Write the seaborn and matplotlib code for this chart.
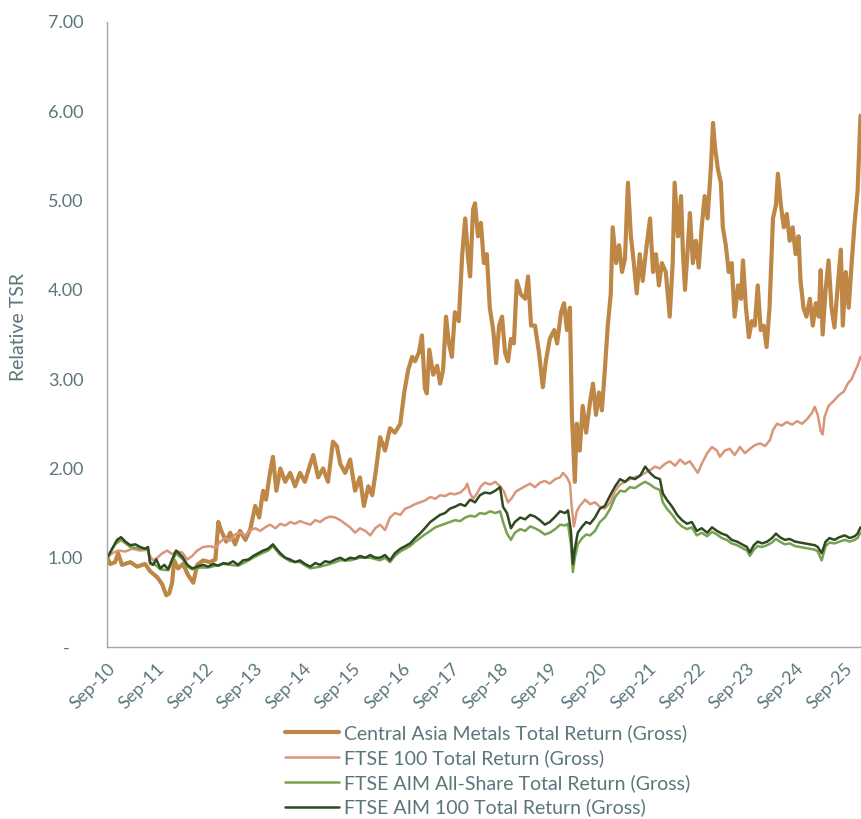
import numpy as np
import pandas as pd
import matplotlib
matplotlib.use('Agg')
import matplotlib.pyplot as plt
import matplotlib.dates as mdates
from matplotlib.ticker import FuncFormatter
import seaborn as sns

# dates as decimal years, values = relative TSR (rebased to 1.00 in Sep-10)
caml_t = [2010.67, 2010.73, 2010.83, 2010.89, 2010.97, 2011.14, 2011.28, 2011.44, 2011.54, 2011.69,
          2011.79, 2011.87, 2011.93, 2011.99, 2012.03, 2012.11, 2012.21, 2012.32, 2012.42, 2012.50,
          2012.62, 2012.76, 2012.87, 2012.93, 2012.99, 2013.09, 2013.17, 2013.27, 2013.37, 2013.48,
          2013.58, 2013.68, 2013.76, 2013.84, 2013.90, 2013.98, 2014.04, 2014.11, 2014.19, 2014.29,
          2014.39, 2014.49, 2014.59, 2014.69, 2014.80, 2014.86, 2014.96, 2015.06, 2015.16, 2015.26,
          2015.34, 2015.41, 2015.51, 2015.61, 2015.71, 2015.81, 2015.89, 2015.98, 2016.06, 2016.14,
          2016.22, 2016.32, 2016.42, 2016.52, 2016.63, 2016.71, 2016.79, 2016.87, 2016.93, 2017.01,
          2017.07, 2017.13, 2017.17, 2017.22, 2017.30, 2017.38, 2017.44, 2017.50, 2017.56, 2017.62,
          2017.68, 2017.74, 2017.82, 2017.89, 2017.95, 2018.01, 2018.05, 2018.11, 2018.15, 2018.21,
          2018.27, 2018.33, 2018.39, 2018.45, 2018.52, 2018.58, 2018.64, 2018.70, 2018.76, 2018.82,
          2018.88, 2018.94, 2019.00, 2019.08, 2019.17, 2019.23, 2019.29, 2019.37, 2019.45, 2019.53,
          2019.59, 2019.67, 2019.76, 2019.82, 2019.90, 2019.96, 2020.02, 2020.08, 2020.12, 2020.16,
          2020.18, 2020.22, 2020.28, 2020.34, 2020.41, 2020.49, 2020.55, 2020.61, 2020.67, 2020.73,
          2020.79, 2020.85, 2020.91, 2020.95, 2021.02, 2021.08, 2021.14, 2021.20, 2021.26, 2021.32,
          2021.38, 2021.44, 2021.50, 2021.56, 2021.63, 2021.71, 2021.77, 2021.83, 2021.89, 2021.95,
          2022.03, 2022.11, 2022.17, 2022.21, 2022.28, 2022.34, 2022.38, 2022.42, 2022.48, 2022.52,
          2022.58, 2022.64, 2022.70, 2022.76, 2022.82, 2022.88, 2022.95, 2022.99, 2023.03, 2023.09,
          2023.15, 2023.19, 2023.25, 2023.31, 2023.37, 2023.43, 2023.50, 2023.56, 2023.60, 2023.66,
          2023.72, 2023.78, 2023.84, 2023.90, 2023.96, 2024.02, 2024.08, 2024.14, 2024.21, 2024.27,
          2024.31, 2024.37, 2024.43, 2024.49, 2024.55, 2024.61, 2024.67, 2024.73, 2024.77, 2024.83,
          2024.89, 2024.96, 2025.02, 2025.08, 2025.14, 2025.18, 2025.22, 2025.28, 2025.34, 2025.40,
          2025.46, 2025.52, 2025.59, 2025.63, 2025.69, 2025.75, 2025.81, 2025.87, 2025.93, 2025.99]
caml_v = [1.00, 0.93, 0.95, 1.05, 0.92, 0.95, 0.90, 0.93, 0.85, 0.78,
          0.70, 0.58, 0.60, 0.72, 0.97, 0.88, 0.93, 0.80, 0.72, 0.92,
          0.97, 0.95, 0.98, 1.40, 1.30, 1.18, 1.28, 1.15, 1.30, 1.20,
          1.32, 1.58, 1.45, 1.75, 1.65, 1.95, 2.13, 1.75, 2.00, 1.85,
          1.95, 1.80, 1.95, 1.85, 2.05, 2.15, 1.90, 2.00, 1.85, 2.30,
          2.25, 2.05, 1.95, 2.10, 1.75, 1.90, 1.58, 1.80, 1.70, 2.00,
          2.35, 2.20, 2.45, 2.40, 2.50, 2.85, 3.10, 3.25, 3.20, 3.30,
          3.49, 2.90, 2.84, 3.33, 3.05, 3.15, 2.95, 3.10, 3.70, 3.40,
          3.25, 3.75, 3.65, 4.40, 4.80, 4.35, 4.15, 4.90, 4.97, 4.60,
          4.75, 4.30, 4.40, 3.80, 3.55, 3.18, 3.60, 3.70, 3.30, 3.20,
          3.45, 3.40, 4.10, 3.95, 3.90, 4.15, 3.60, 3.60, 3.30, 2.91,
          3.20, 3.45, 3.55, 3.40, 3.75, 3.85, 3.55, 3.80, 2.60, 2.10,
          1.85, 2.50, 2.20, 2.70, 2.40, 2.75, 2.95, 2.60, 2.85, 2.65,
          3.10, 3.60, 3.95, 4.70, 4.30, 4.50, 4.20, 4.35, 5.20, 4.60,
          4.30, 3.96, 4.40, 4.10, 4.45, 4.80, 4.20, 4.40, 4.05, 4.30,
          4.20, 3.70, 4.30, 5.20, 4.60, 5.05, 4.40, 4.00, 4.50, 4.86,
          4.30, 4.55, 4.25, 4.70, 5.05, 4.80, 5.40, 5.87, 5.60, 5.35,
          5.20, 4.70, 4.50, 4.20, 4.30, 3.70, 4.05, 3.90, 4.33, 3.80,
          3.47, 3.65, 3.60, 4.05, 3.55, 3.60, 3.36, 3.80, 4.80, 4.95,
          5.30, 4.95, 4.70, 4.85, 4.55, 4.70, 4.40, 4.60, 4.10, 3.80,
          3.70, 3.90, 3.60, 3.85, 3.70, 4.22, 3.50, 4.00, 4.33, 3.80,
          3.58, 4.00, 4.45, 3.60, 4.20, 3.80, 4.30, 4.75, 5.10, 5.95]

ftse100_t = [2010.67, 2010.77, 2010.89, 2011.04, 2011.18, 2011.34, 2011.48, 2011.54, 2011.60, 2011.69,
             2011.79, 2011.89, 2011.99, 2012.09, 2012.19, 2012.30, 2012.40, 2012.50, 2012.62, 2012.76,
             2012.87, 2012.97, 2013.07, 2013.17, 2013.27, 2013.37, 2013.48, 2013.58, 2013.68, 2013.78,
             2013.88, 2013.98, 2014.09, 2014.19, 2014.29, 2014.39, 2014.49, 2014.59, 2014.69, 2014.80,
             2014.90, 2015.00, 2015.10, 2015.20, 2015.31, 2015.41, 2015.51, 2015.61, 2015.71, 2015.81,
             2015.92, 2016.02, 2016.12, 2016.22, 2016.32, 2016.42, 2016.52, 2016.63, 2016.73, 2016.83,
             2016.93, 2017.03, 2017.13, 2017.24, 2017.34, 2017.44, 2017.54, 2017.64, 2017.74, 2017.85,
             2017.95, 2017.99, 2018.05, 2018.11, 2018.19, 2018.27, 2018.35, 2018.46, 2018.56, 2018.66,
             2018.74, 2018.82, 2018.90, 2018.98, 2019.07, 2019.17, 2019.27, 2019.37, 2019.47, 2019.57,
             2019.67, 2019.78, 2019.88, 2019.94, 2020.02, 2020.08, 2020.12, 2020.16, 2020.22, 2020.28,
             2020.39, 2020.49, 2020.59, 2020.69, 2020.79, 2020.90, 2021.00, 2021.10, 2021.20, 2021.30,
             2021.40, 2021.51, 2021.61, 2021.71, 2021.81, 2021.91, 2022.01, 2022.11, 2022.22, 2022.32,
             2022.42, 2022.52, 2022.62, 2022.68, 2022.76, 2022.87, 2022.97, 2023.07, 2023.13, 2023.23,
             2023.33, 2023.43, 2023.54, 2023.64, 2023.74, 2023.84, 2023.95, 2024.05, 2024.15, 2024.21,
             2024.29, 2024.39, 2024.49, 2024.60, 2024.70, 2024.80, 2024.90, 2025.00, 2025.06, 2025.12,
             2025.18, 2025.22, 2025.26, 2025.34, 2025.45, 2025.55, 2025.65, 2025.73, 2025.81, 2025.87,
             2025.93, 2025.99]
ftse100_v = [1.00, 1.05, 1.08, 1.07, 1.10, 1.08, 1.09, 1.02, 0.97, 1.00,
             1.05, 1.08, 1.04, 1.07, 1.06, 0.98, 1.02, 1.08, 1.12, 1.13,
             1.11, 1.18, 1.22, 1.19, 1.26, 1.28, 1.25, 1.31, 1.33, 1.30,
             1.34, 1.37, 1.33, 1.38, 1.36, 1.40, 1.38, 1.41, 1.39, 1.37,
             1.42, 1.40, 1.44, 1.46, 1.45, 1.42, 1.38, 1.34, 1.28, 1.33,
             1.30, 1.25, 1.33, 1.37, 1.31, 1.45, 1.50, 1.48, 1.55, 1.57,
             1.60, 1.62, 1.64, 1.68, 1.66, 1.70, 1.69, 1.72, 1.71, 1.73,
             1.78, 1.83, 1.72, 1.66, 1.72, 1.80, 1.84, 1.82, 1.85, 1.80,
             1.74, 1.62, 1.67, 1.74, 1.77, 1.80, 1.83, 1.79, 1.84, 1.86,
             1.83, 1.88, 1.90, 1.95, 1.90, 1.83, 1.55, 1.35, 1.52, 1.58,
             1.65, 1.60, 1.62, 1.57, 1.55, 1.62, 1.75, 1.82, 1.85, 1.88,
             1.90, 1.92, 1.95, 1.98, 2.02, 2.00, 2.05, 2.08, 2.03, 2.10,
             2.05, 2.08, 2.00, 1.95, 2.05, 2.17, 2.24, 2.20, 2.13, 2.20,
             2.22, 2.15, 2.24, 2.17, 2.22, 2.26, 2.28, 2.25, 2.32, 2.43,
             2.50, 2.48, 2.52, 2.49, 2.53, 2.50, 2.55, 2.62, 2.69, 2.60,
             2.42, 2.38, 2.58, 2.70, 2.76, 2.82, 2.86, 2.95, 3.00, 3.08,
             3.15, 3.25]

aim_all_t = [2010.67, 2010.83, 2010.95, 2011.14, 2011.34, 2011.50, 2011.54, 2011.65, 2011.75, 2011.91,
             2011.99, 2012.07, 2012.21, 2012.30, 2012.40, 2012.56, 2012.72, 2012.87, 2013.03, 2013.17,
             2013.33, 2013.48, 2013.64, 2013.78, 2013.94, 2014.04, 2014.19, 2014.39, 2014.59, 2014.80,
             2015.00, 2015.20, 2015.41, 2015.61, 2015.81, 2016.02, 2016.22, 2016.32, 2016.42, 2016.52,
             2016.63, 2016.73, 2016.83, 2016.93, 2017.03, 2017.13, 2017.24, 2017.34, 2017.44, 2017.54,
             2017.64, 2017.74, 2017.85, 2017.95, 2018.05, 2018.15, 2018.25, 2018.35, 2018.46, 2018.56,
             2018.66, 2018.72, 2018.80, 2018.88, 2018.96, 2019.07, 2019.17, 2019.27, 2019.37, 2019.47,
             2019.57, 2019.67, 2019.78, 2019.88, 2019.98, 2020.04, 2020.10, 2020.14, 2020.18, 2020.24,
             2020.33, 2020.41, 2020.49, 2020.59, 2020.69, 2020.79, 2020.90, 2021.00, 2021.10, 2021.20,
             2021.30, 2021.40, 2021.51, 2021.61, 2021.71, 2021.81, 2021.91, 2021.97, 2022.05, 2022.16,
             2022.26, 2022.36, 2022.46, 2022.56, 2022.66, 2022.76, 2022.87, 2022.97, 2023.07, 2023.17,
             2023.27, 2023.37, 2023.48, 2023.58, 2023.68, 2023.74, 2023.82, 2023.90, 2023.99, 2024.09,
             2024.19, 2024.27, 2024.35, 2024.45, 2024.55, 2024.66, 2024.76, 2024.86, 2024.96, 2025.06,
             2025.12, 2025.20, 2025.28, 2025.36, 2025.46, 2025.56, 2025.67, 2025.77, 2025.87, 2025.93,
             2025.99]
aim_all_v = [1.00, 1.15, 1.20, 1.12, 1.10, 1.10, 0.93, 0.92, 0.87, 0.86,
             0.96, 1.05, 0.98, 0.90, 0.87, 0.89, 0.89, 0.91, 0.93, 0.92,
             0.91, 0.95, 1.00, 1.04, 1.08, 1.13, 1.03, 0.96, 0.95, 0.88,
             0.90, 0.93, 0.97, 0.97, 1.00, 1.00, 0.97, 1.00, 0.95, 1.02,
             1.07, 1.10, 1.13, 1.18, 1.22, 1.26, 1.30, 1.34, 1.36, 1.38,
             1.40, 1.42, 1.41, 1.45, 1.47, 1.46, 1.50, 1.49, 1.52, 1.50,
             1.52, 1.40, 1.27, 1.20, 1.28, 1.32, 1.30, 1.35, 1.33, 1.30,
             1.26, 1.28, 1.32, 1.37, 1.36, 1.38, 1.15, 0.84, 1.00, 1.15,
             1.22, 1.26, 1.25, 1.30, 1.40, 1.45, 1.55, 1.68, 1.75, 1.74,
             1.79, 1.78, 1.82, 1.85, 1.82, 1.78, 1.76, 1.62, 1.55, 1.48,
             1.40, 1.35, 1.32, 1.34, 1.25, 1.28, 1.24, 1.29, 1.26, 1.22,
             1.20, 1.16, 1.14, 1.11, 1.08, 1.02, 1.09, 1.13, 1.12, 1.14,
             1.17, 1.21, 1.18, 1.15, 1.16, 1.13, 1.12, 1.11, 1.10, 1.09,
             1.07, 0.97, 1.13, 1.17, 1.16, 1.18, 1.20, 1.18, 1.20, 1.22,
             1.28]

aim100_t = [2010.67, 2010.77, 2010.87, 2010.95, 2011.04, 2011.14, 2011.24, 2011.34, 2011.44, 2011.50,
            2011.54, 2011.60, 2011.67, 2011.75, 2011.83, 2011.91, 2011.99, 2012.07, 2012.13, 2012.21,
            2012.30, 2012.40, 2012.50, 2012.62, 2012.72, 2012.83, 2012.93, 2013.03, 2013.13, 2013.23,
            2013.33, 2013.43, 2013.54, 2013.64, 2013.74, 2013.84, 2013.94, 2014.04, 2014.11, 2014.19,
            2014.29, 2014.39, 2014.49, 2014.59, 2014.69, 2014.80, 2014.90, 2015.00, 2015.10, 2015.20,
            2015.31, 2015.41, 2015.51, 2015.61, 2015.71, 2015.81, 2015.92, 2016.02, 2016.12, 2016.22,
            2016.32, 2016.42, 2016.52, 2016.63, 2016.73, 2016.83, 2016.93, 2017.03, 2017.13, 2017.24,
            2017.34, 2017.44, 2017.54, 2017.64, 2017.74, 2017.85, 2017.95, 2018.05, 2018.15, 2018.25,
            2018.35, 2018.46, 2018.56, 2018.66, 2018.72, 2018.80, 2018.88, 2018.96, 2019.07, 2019.17,
            2019.27, 2019.37, 2019.47, 2019.57, 2019.67, 2019.78, 2019.88, 2019.98, 2020.04, 2020.10,
            2020.14, 2020.18, 2020.24, 2020.33, 2020.41, 2020.49, 2020.59, 2020.69, 2020.79, 2020.90,
            2021.00, 2021.10, 2021.20, 2021.30, 2021.40, 2021.51, 2021.61, 2021.71, 2021.81, 2021.91,
            2021.97, 2022.05, 2022.16, 2022.26, 2022.36, 2022.46, 2022.56, 2022.66, 2022.76, 2022.87,
            2022.97, 2023.07, 2023.17, 2023.27, 2023.37, 2023.48, 2023.58, 2023.68, 2023.74, 2023.82,
            2023.90, 2023.99, 2024.09, 2024.19, 2024.27, 2024.35, 2024.45, 2024.55, 2024.66, 2024.76,
            2024.86, 2024.96, 2025.06, 2025.12, 2025.20, 2025.28, 2025.36, 2025.46, 2025.56, 2025.67,
            2025.77, 2025.87, 2025.93, 2025.99]
aim100_v = [1.00, 1.10, 1.20, 1.23, 1.18, 1.14, 1.15, 1.12, 1.10, 1.12,
            0.95, 0.92, 0.98, 0.88, 0.92, 0.87, 0.98, 1.08, 1.05, 1.00,
            0.92, 0.88, 0.90, 0.92, 0.90, 0.93, 0.91, 0.94, 0.93, 0.96,
            0.92, 0.97, 0.98, 1.02, 1.05, 1.08, 1.10, 1.15, 1.10, 1.05,
            1.00, 0.98, 0.95, 0.97, 0.93, 0.90, 0.94, 0.92, 0.96, 0.95,
            0.98, 1.00, 0.97, 1.00, 0.99, 1.02, 1.00, 1.03, 1.00, 1.00,
            1.03, 0.97, 1.05, 1.10, 1.13, 1.16, 1.22, 1.27, 1.33, 1.40,
            1.44, 1.48, 1.50, 1.55, 1.57, 1.60, 1.58, 1.65, 1.62, 1.70,
            1.73, 1.72, 1.75, 1.79, 1.57, 1.50, 1.33, 1.40, 1.45, 1.43,
            1.48, 1.46, 1.42, 1.37, 1.40, 1.46, 1.52, 1.50, 1.53, 1.30,
            0.93, 1.10, 1.28, 1.35, 1.40, 1.38, 1.45, 1.55, 1.58, 1.70,
            1.80, 1.88, 1.85, 1.90, 1.88, 1.92, 2.02, 1.95, 1.90, 1.88,
            1.72, 1.65, 1.57, 1.48, 1.42, 1.38, 1.40, 1.30, 1.33, 1.28,
            1.34, 1.30, 1.27, 1.25, 1.20, 1.18, 1.15, 1.12, 1.06, 1.14,
            1.18, 1.16, 1.18, 1.22, 1.27, 1.23, 1.20, 1.21, 1.18, 1.17,
            1.16, 1.15, 1.14, 1.12, 1.05, 1.18, 1.22, 1.20, 1.23, 1.25,
            1.22, 1.24, 1.27, 1.34]

series_names = ['Central Asia Metals Total Return (Gross)',
                'FTSE 100 Total Return (Gross)',
                'FTSE AIM All-Share Total Return (Gross)',
                'FTSE AIM 100 Total Return (Gross)']
series_colors = ['#BE8746', '#D9967A', '#77A24E', '#2F4A22']
series_widths = [3.0, 1.8, 1.8, 1.8]

text_color = '#5A767B'


def to_dates(t):
    t = np.asarray(t, dtype=float)
    return pd.Timestamp('2010-01-01') + pd.to_timedelta((t - 2010) * 365.25, unit='D')


sns.set_theme(style='white')
plt.rcParams['font.family'] = ['Lato', 'DejaVu Sans']

fig = plt.figure(figsize=(8.61, 8.19), dpi=100)
ax = fig.add_axes([107 / 861, 1 - 647 / 819, 754 / 861, 625 / 819])

all_t = [caml_t, ftse100_t, aim_all_t, aim100_t]
all_v = [caml_v, ftse100_v, aim_all_v, aim100_v]
for name, t, v, c, lw in zip(series_names, all_t, all_v, series_colors, series_widths):
    df = pd.DataFrame({'date': to_dates(t), 'tsr': v})
    sns.lineplot(data=df, x='date', y='tsr', color=c, linewidth=lw, label=name,
                 estimator=None, ax=ax)

ax.set_xlim(pd.Timestamp('2010-09-01'), pd.Timestamp('2026-01-01'))
ax.set_ylim(0, 7)
ax.set_yticks(range(0, 8))
ax.yaxis.set_major_formatter(FuncFormatter(lambda v, p: '-   ' if v == 0 else '{:.2f}'.format(v)))
ax.xaxis.set_major_locator(mdates.MonthLocator(bymonth=9, bymonthday=1))
ax.xaxis.set_major_formatter(mdates.DateFormatter('%b-%y'))

ax.tick_params(axis='y', length=0, pad=17, labelsize=13, labelcolor=text_color)
ax.tick_params(axis='x', length=0, pad=10, labelsize=13, labelcolor=text_color)
for lbl in ax.get_xticklabels():
    lbl.set_rotation(45)
    lbl.set_ha('right')
    lbl.set_rotation_mode('anchor')

ax.set_xlabel('')
ax.set_ylabel('Relative TSR', fontsize=14, color=text_color)
ax.yaxis.set_label_coords(-0.106, 0.512)

sns.despine(ax=ax)
for s in ['left', 'bottom']:
    ax.spines[s].set_color('#A6A6A6')
    ax.spines[s].set_linewidth(1.0)

handles, labels = ax.get_legend_handles_labels()
ax.legend(handles, labels, loc='upper left', bbox_to_anchor=(285 / 861, 1 - 724 / 819),
          bbox_transform=fig.transFigure, frameon=False, fontsize=14, labelcolor=text_color,
          handlelength=2.8, handletextpad=0.26, labelspacing=0.36, borderpad=0, borderaxespad=0)

fig.savefig('out.png', dpi=100)
